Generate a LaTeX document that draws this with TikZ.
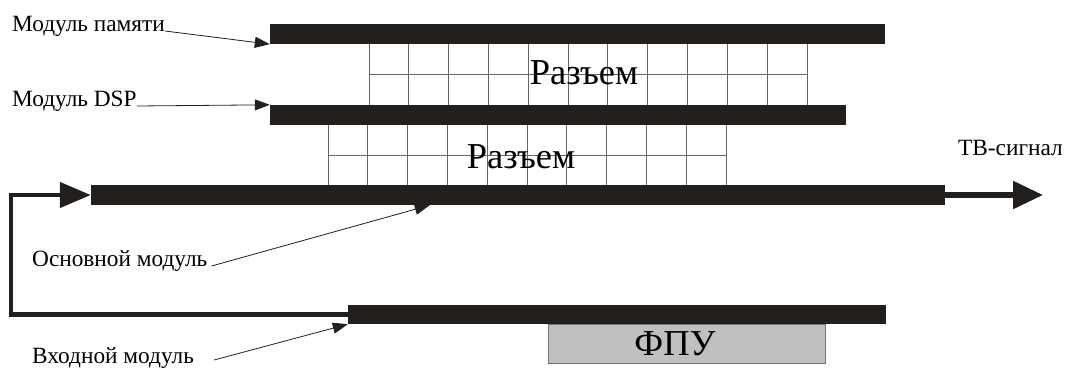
\documentclass[tikz,border=0pt]{standalone}
\usepackage{fontspec}
\setmainfont{Liberation Serif}
\usetikzlibrary{arrows.meta}
\definecolor{barc}{RGB}{35,31,28}
\definecolor{fpuc}{RGB}{192,192,192}
\begin{document}
\begin{tikzpicture}[x=1pt,y=-1pt,
  bar/.style={rectangle,fill=barc,draw=none,inner sep=0pt,minimum height=20pt},
  gridln/.style={draw=black!60,line width=0.9pt},
  lab/.style={inner sep=0pt,anchor=base west,font=\fontsize{23.3}{27}\selectfont},
  bigtxt/.style={inner sep=0pt,font=\fontsize{36.5}{42}\selectfont},
  leader/.style={draw=barc,line width=0.8pt,-{Triangle[length=15pt,width=11pt]}},
  thickln/.style={draw=barc,line width=4.5pt}]
\useasboundingbox (0,0) rectangle (1065,367);
% grids
\foreach \i in {0,...,11} \draw[gridln] ({369+\i*39.82},44) -- ({369+\i*39.82},105);
\draw[gridln] (369,74.5) -- (807,74.5);
\foreach \i in {0,...,10} \draw[gridln] ({328+\i*39.8},125) -- ({328+\i*39.8},185);
\draw[gridln] (328,155.5) -- (726,155.5);
% bars
\node[bar,minimum width=615pt] (mem) at (577.5,34) {};
\node[bar,minimum width=576pt] (dsp) at (558,115) {};
\node[bar,minimum width=854pt] (main) at (518,195) {};
\node[bar,minimum width=538pt,minimum height=19pt] (inp) at (617,314.5) {};
\node[rectangle,fill=fpuc,draw=black!55,line width=0.8pt,inner sep=0pt,minimum width=277pt,minimum height=39pt] (fpu) at (686.5,343.5) {};
\node[bigtxt,anchor=base] (fputxt) at (675,355) {ФПУ};
% connector texts
\node[bigtxt] (raz1) at (584,73) {Разъем};
\node[bigtxt] (raz2) at (521,157) {Разъем};
% labels
\node[lab] (lab1) at (12,31) {Модуль памяти};
\node[lab] (lab2) at (12,106) {Модуль DSP};
\node[lab] (lab3) at (32,266) {Основной модуль};
\node[lab] (lab4) at (32,363) {Входной модуль};
\node[lab] (tv) at (958,155) {ТВ-сигнал};
% leaders
\draw[leader] (lab1.base east) -- (mem.south west);
\draw[leader] (lab2.base east) -- (dsp.north west);
\draw[leader] ([shift={(4pt,0pt)}]lab3.base east) -- ([xshift=339pt]main.south west);
\draw[leader] ([shift={(20pt,3pt)}]lab4.base east) -- (inp.south west);
% signal arrows
\coordinate (fb) at (11,250);
\coordinate (tvend) at (1043,195);
\draw[thickln,-{Triangle[length=31pt,width=25pt]}] (inp.west) -| (fb) |- (main.west);
\draw[draw=barc,line width=5.5pt,-{Triangle[length=30pt,width=27pt]}] (main.east) -- (tvend);
\end{tikzpicture}
\end{document}
